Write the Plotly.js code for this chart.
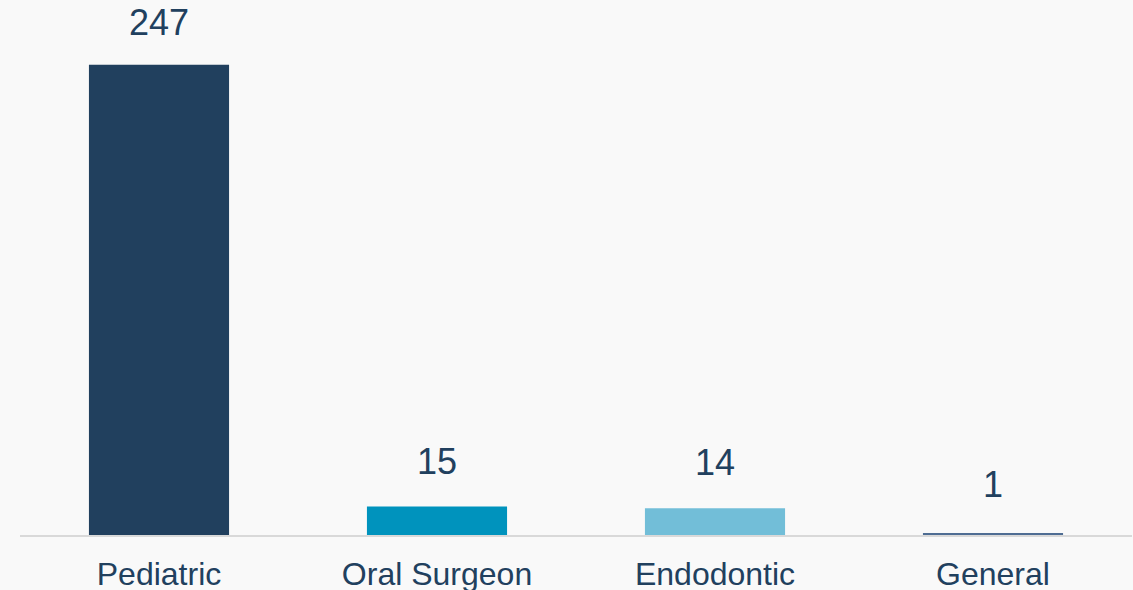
<!DOCTYPE html>
<html>
<head>
<meta charset="utf-8">
<script src="https://cdn.plot.ly/plotly-3.0.1.min.js"></script>
<style>
  html, body { margin: 0; padding: 0; background: #f9f9f9; }
  #chart { width: 1133px; height: 590px; }
</style>
</head>
<body>
<div id="chart"></div>
<script>
var categories = ["Pediatric", "Oral Surgeon", "Endodontic", "General"];
var values = [247, 15, 14, 1];
var barColors = ["#21405e", "#0093bd", "#72bed8", "#4f6d93"];

var textColor = "#21405e";
var fontFamily = "Arial, 'Liberation Sans', sans-serif";
var labelShift = [42, 45, 46, 49];

var trace = {
  type: "bar",
  x: categories,
  y: values,
  marker: { color: barColors },
  hoverinfo: "none"
};

var annotations = categories.map(function (c, i) {
  return {
    x: c,
    y: values[i],
    xref: "x",
    yref: "y",
    text: String(values[i]),
    showarrow: false,
    yanchor: "middle",
    yshift: labelShift[i],
    font: { family: fontFamily, size: 36, color: textColor }
  };
});

var layout = {
  width: 1133,
  height: 590,
  margin: { l: 20, r: 1, t: 40, b: 55, pad: 0 },
  paper_bgcolor: "#f9f9f9",
  plot_bgcolor: "#f9f9f9",
  bargap: 0.496,
  showlegend: false,
  xaxis: {
    showline: true,
    linecolor: "#d9d9d9",
    linewidth: 2,
    showgrid: false,
    zeroline: false,
    ticks: "",
    ticklabelstandoff: 10,
    automargin: false,
    tickfont: { family: fontFamily, size: 32, color: textColor },
    fixedrange: true
  },
  yaxis: {
    range: [0, 260],
    visible: false,
    showgrid: false,
    zeroline: false,
    fixedrange: true
  },
  annotations: annotations
};

Plotly.newPlot("chart", [trace], layout, { displayModeBar: false, staticPlot: true });
</script>
</body>
</html>
